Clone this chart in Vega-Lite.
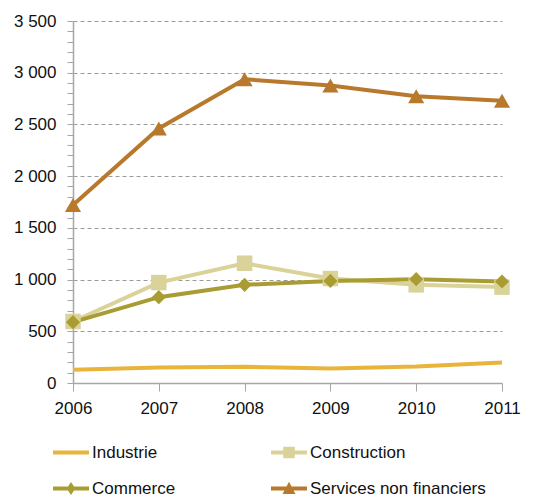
{
  "$schema": "https://vega.github.io/schema/vega-lite/v6.json",
  "autosize": "none",
  "padding": {"left": 73, "top": 21, "right": 42, "bottom": 114},
  "width": 429,
  "height": 362,
  "background": "white",
  "config": {
    "view": {"stroke": null},
    "font": "Liberation Sans"
  },
  "data": {
    "values": [
      {"year": "2006", "series": "Industrie", "value": 128},
      {"year": "2007", "series": "Industrie", "value": 151},
      {"year": "2008", "series": "Industrie", "value": 157},
      {"year": "2009", "series": "Industrie", "value": 141},
      {"year": "2010", "series": "Industrie", "value": 160},
      {"year": "2011", "series": "Industrie", "value": 199},
      {"year": "2006", "series": "Construction", "value": 595},
      {"year": "2007", "series": "Construction", "value": 971},
      {"year": "2008", "series": "Construction", "value": 1158},
      {"year": "2009", "series": "Construction", "value": 1010},
      {"year": "2010", "series": "Construction", "value": 949},
      {"year": "2011", "series": "Construction", "value": 927},
      {"year": "2006", "series": "Commerce", "value": 588},
      {"year": "2007", "series": "Commerce", "value": 830},
      {"year": "2008", "series": "Commerce", "value": 949},
      {"year": "2009", "series": "Commerce", "value": 987},
      {"year": "2010", "series": "Commerce", "value": 1004},
      {"year": "2011", "series": "Commerce", "value": 981},
      {"year": "2006", "series": "Services non financiers", "value": 1721},
      {"year": "2007", "series": "Services non financiers", "value": 2461},
      {"year": "2008", "series": "Services non financiers", "value": 2937},
      {"year": "2009", "series": "Services non financiers", "value": 2876},
      {"year": "2010", "series": "Services non financiers", "value": 2773},
      {"year": "2011", "series": "Services non financiers", "value": 2728}
    ]
  },
  "encoding": {
    "x": {
      "field": "year",
      "type": "ordinal",
      "scale": {"type": "point", "padding": 0},
      "axis": {
        "title": null,
        "labelAngle": 0,
        "labelFontSize": 17,
        "labelColor": "#111",
        "labelPadding": 9,
        "domainColor": "#a6a6a6",
        "domainWidth": 1.5,
        "tickColor": "#a6a6a6",
        "tickSize": 8,
        "tickWidth": 1,
        "grid": false
      }
    },
    "y": {
      "field": "value",
      "type": "quantitative",
      "scale": {"domain": [0, 3500], "nice": false},
      "axis": {
        "title": null,
        "values": [0,100,200,300,400,500,600,700,800,900,1000,1100,1200,1300,1400,1500,1600,1700,1800,1900,2000,2100,2200,2300,2400,2500,2600,2700,2800,2900,3000,3100,3200,3300,3400,3500],
        "labelExpr": "datum.value % 500 === 0 ? replace(format(datum.value, ','), ',', ' ') : ''",
        "labelOverlap": false,
        "labelFontSize": 17,
        "labelColor": "#111",
        "labelPadding": 11,
        "domainColor": "#a6a6a6",
        "domainWidth": 1.5,
        "tickColor": "#a6a6a6",
        "tickSize": 6,
        "tickWidth": 1,
        "grid": true,
        "gridColor": "#9a9a9a",
        "gridDash": [4, 3],
        "gridWidth": 1,
        "gridOpacity": {"condition": {"test": "datum.value % 500 === 0 && datum.value > 0", "value": 1}, "value": 0}
      }
    },
    "color": {
      "field": "series",
      "type": "nominal",
      "scale": {
        "domain": ["Industrie", "Construction", "Commerce", "Services non financiers"],
        "range": ["#E8B43C", "#D9D399", "#A89C32", "#B8792C"]
      },
      "legend": {
        "title": null,
        "orient": "none",
        "legendX": -20,
        "legendY": 413.5,
        "direction": "horizontal",
        "columns": 2,
        "columnPadding": 95,
        "rowPadding": 10,
        "padding": 0,
        "symbolSize": 1296,
        "labelOffset": 3,
        "labelFontSize": 17,
        "labelColor": "#111",
        "labelLimit": 300,
        "encode": {
          "symbols": {
            "update": {
              "shape": {"signal": "datum.value === 'Industrie' ? 'M-1,-0.11H1V0.11H-1Z' : datum.value === 'Construction' ? 'M-1,-0.11H1V0.11H-1Z M-0.32,-0.32H0.32V0.32H-0.32Z' : datum.value === 'Commerce' ? 'M-1,-0.11H1V0.11H-1Z M0,-0.36L0.24,0L0,0.36L-0.24,0Z' : 'M-1,-0.11H1V0.11H-1Z M0,-0.38L0.36,0.3H-0.36Z'"},
              "size": {"value": 1296},
              "fill": {"signal": "scale('color', datum.value)"},
              "fillOpacity": {"value": 1},
              "strokeWidth": {"value": 0},
              "opacity": {"value": 1}
            }
          }
        }
      }
    }
  },
  "layer": [
    {
      "mark": {"type": "line", "strokeWidth": 4}
    },
    {
      "transform": [{"filter": "datum.series === 'Construction'"}],
      "mark": {"type": "point", "filled": true, "opacity": 1, "shape": "square", "size": 240}
    },
    {
      "transform": [{"filter": "datum.series === 'Commerce'"}],
      "mark": {"type": "point", "filled": true, "opacity": 1, "shape": "diamond", "size": 200}
    },
    {
      "transform": [{"filter": "datum.series === 'Services non financiers'"}],
      "mark": {"type": "point", "filled": true, "opacity": 1, "shape": "triangle-up", "size": 260}
    }
  ]
}
